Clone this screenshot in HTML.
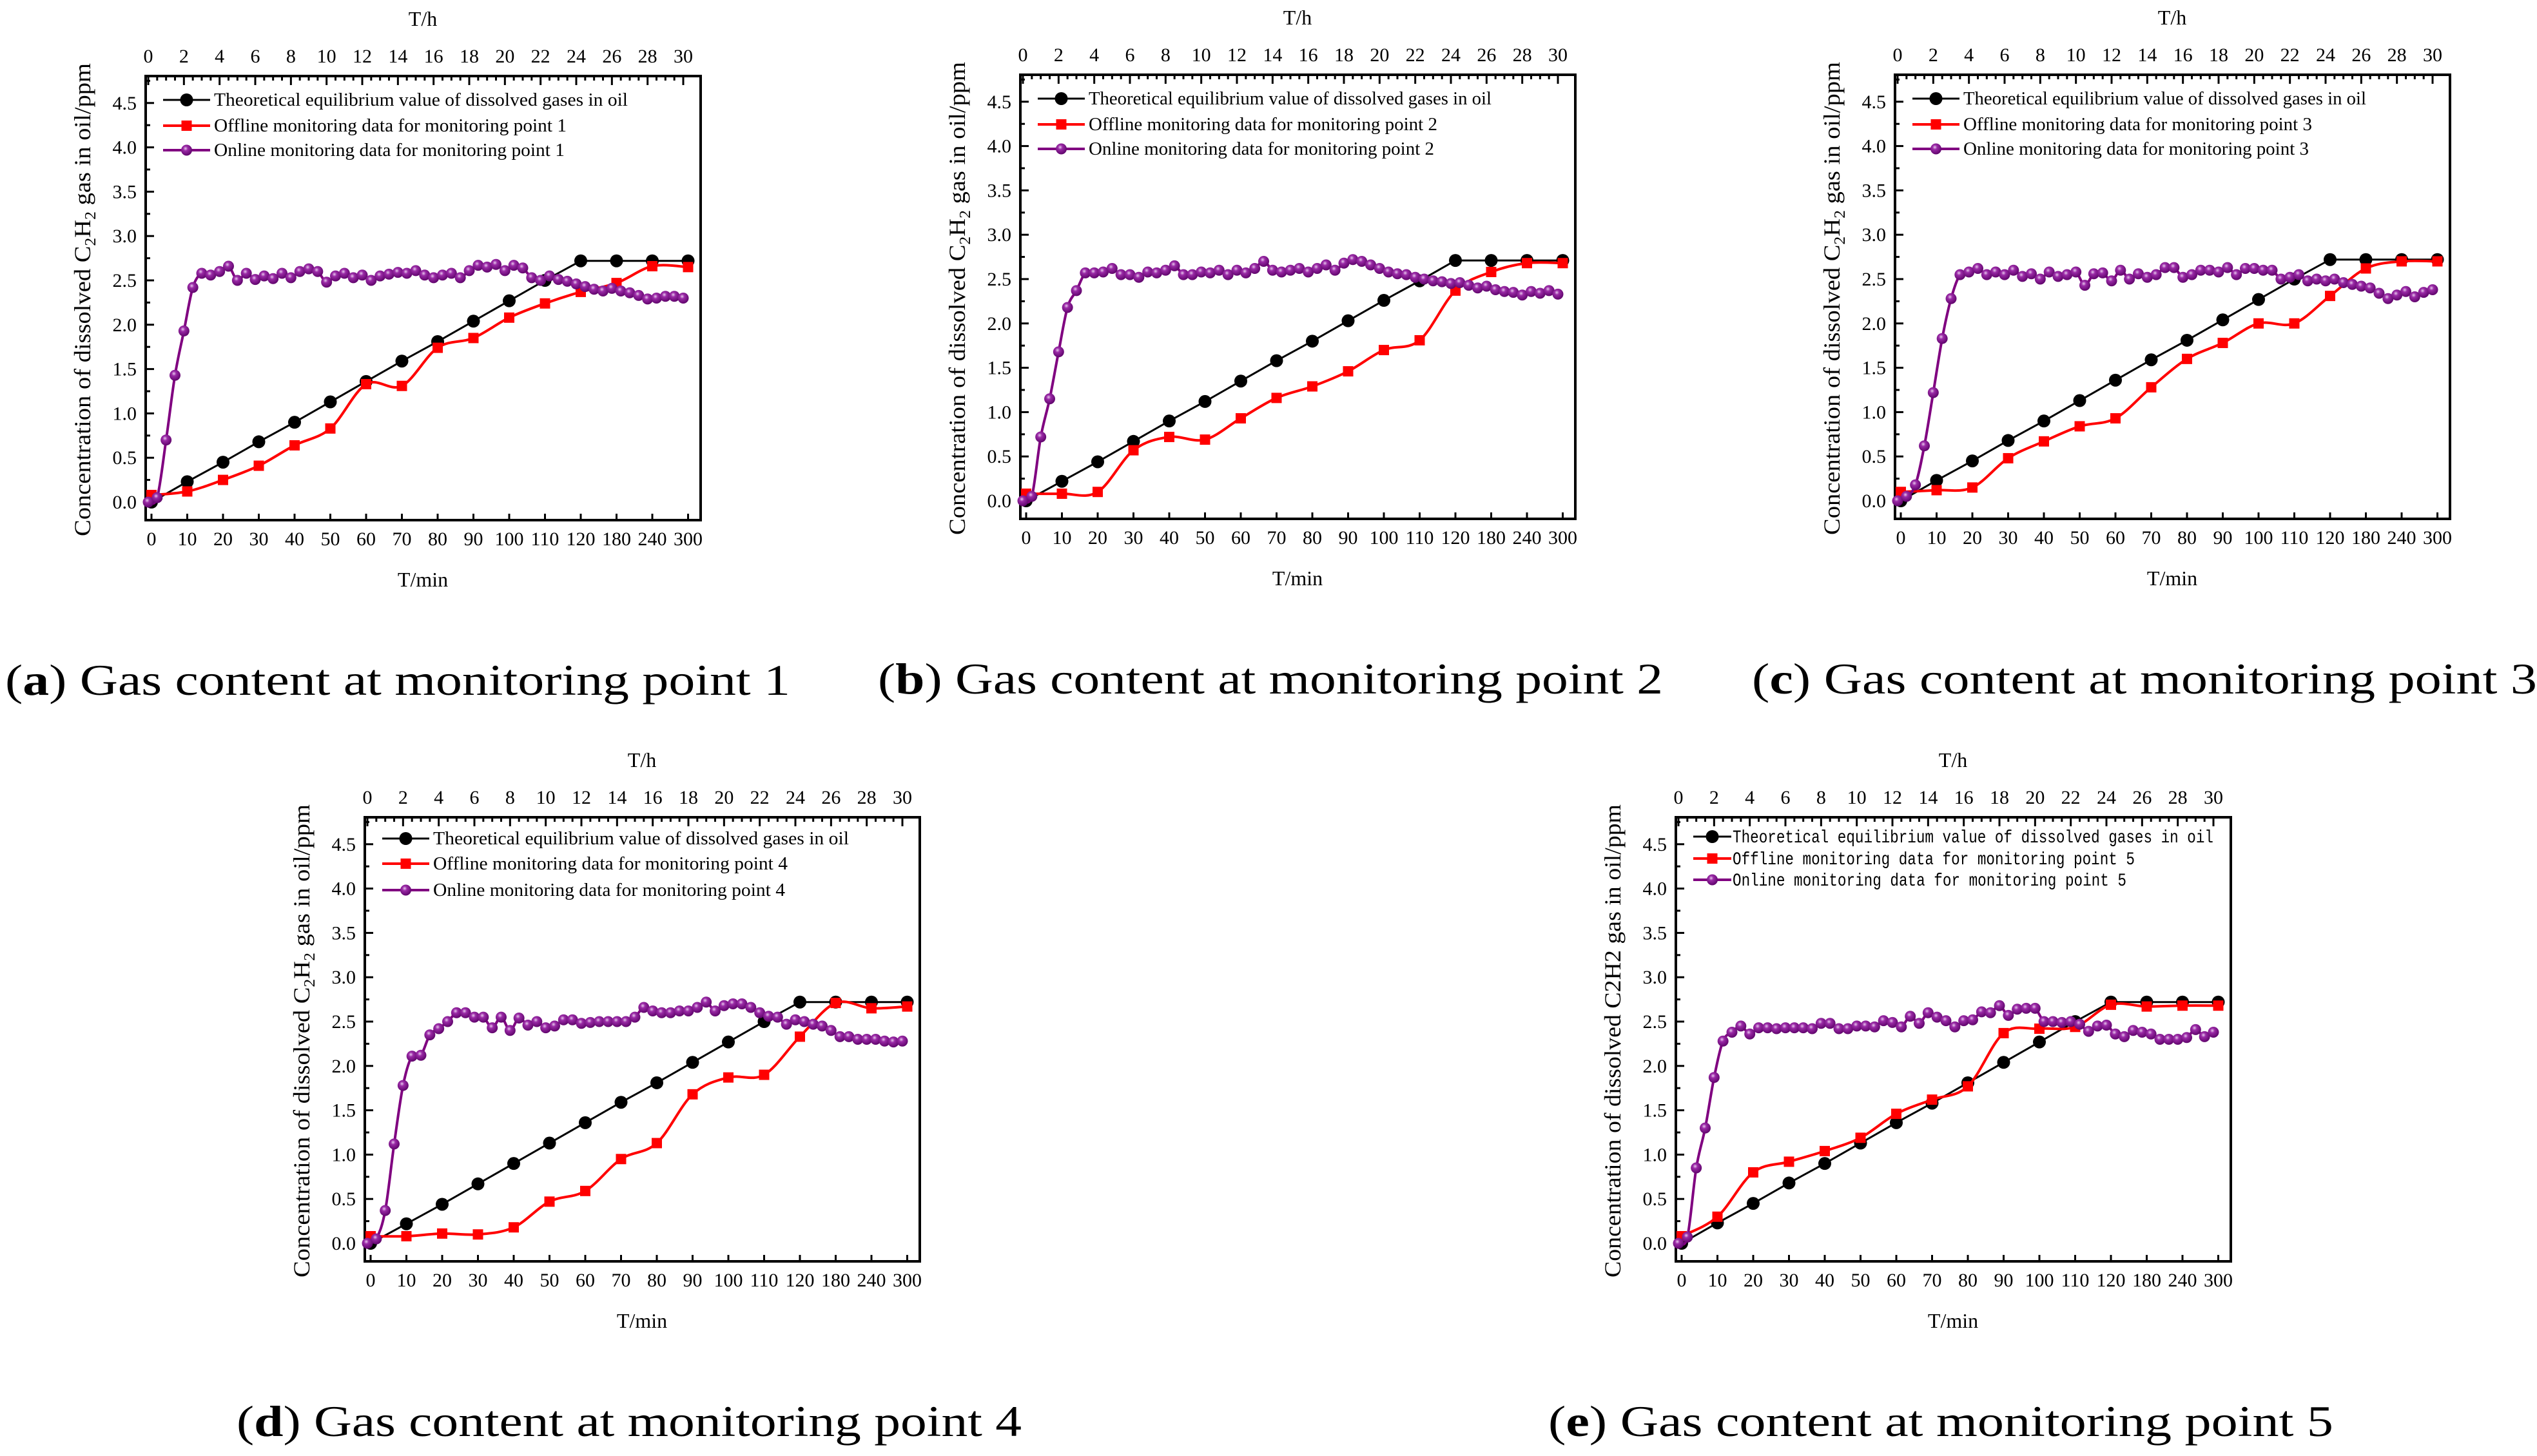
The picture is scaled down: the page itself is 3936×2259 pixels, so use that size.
<!DOCTYPE html>
<html><head><meta charset="utf-8">
<style>
html,body{margin:0;padding:0;background:#fff;}
svg{display:block;}
text{font-family:"Liberation Serif",serif;fill:#000;}
</style></head>
<body>
<svg id="fig" width="3936" height="2259" viewBox="0 0 3936 2259" xmlns="http://www.w3.org/2000/svg">
<defs>
<radialGradient id="sph" cx="0.4" cy="0.35" r="0.7">
<stop offset="0" stop-color="#e8c8ee"/><stop offset="0.3" stop-color="#9a2aa6"/><stop offset="1" stop-color="#5a0066"/>
</radialGradient>
</defs>
</svg>
<script>
const categories = ["0","10","20","30","40","50","60","70","80","90","100","110","120","180","240","300"];
const hourTicks = [0,2,4,6,8,10,12,14,16,18,20,22,24,26,28,30];
const yTicks = [0,0.5,1,1.5,2,2.5,3,3.5,4,4.5];
const onlineHourStep = 0.5;

const theoryA = [0,0.23,0.45,0.68,0.9,1.13,1.36,1.59,1.81,2.04,2.27,2.5,2.72,2.72,2.72,2.72];
const theoryB = [0,0.22,0.44,0.67,0.9,1.12,1.35,1.58,1.8,2.03,2.26,2.48,2.71,2.71,2.71,2.71];
const theoryC = [0,0.23,0.45,0.68,0.9,1.13,1.36,1.59,1.81,2.04,2.27,2.5,2.72,2.72,2.72,2.72];
const theoryD = [0,0.22,0.44,0.67,0.9,1.13,1.36,1.59,1.81,2.04,2.27,2.5,2.72,2.72,2.72,2.72];
const theoryE = [0,0.23,0.45,0.68,0.9,1.13,1.36,1.58,1.81,2.04,2.27,2.5,2.72,2.72,2.72,2.72];

const offlineA = [0.08,0.12,0.25,0.41,0.64,0.83,1.33,1.31,1.74,1.85,2.08,2.24,2.37,2.47,2.66,2.65];
const offlineB = [0.08,0.08,0.1,0.57,0.72,0.69,0.93,1.16,1.29,1.46,1.7,1.81,2.37,2.58,2.68,2.68];
const offlineC = [0.1,0.12,0.15,0.48,0.67,0.84,0.93,1.28,1.6,1.78,2.0,2.0,2.31,2.62,2.7,2.7];
const offlineD = [0.08,0.08,0.11,0.1,0.18,0.47,0.59,0.95,1.13,1.68,1.87,1.9,2.33,2.71,2.65,2.67];
const offlineE = [0.08,0.3,0.8,0.92,1.04,1.19,1.46,1.62,1.77,2.37,2.42,2.44,2.69,2.67,2.68,2.68];

const onlineA = [0,0.05,0.7,1.43,1.93,2.42,2.58,2.56,2.6,2.66,2.5,2.58,2.51,2.55,2.52,2.58,2.53,2.6,2.63,2.6,2.48,2.55,2.58,2.53,2.56,2.5,2.55,2.57,2.59,2.58,2.61,2.56,2.53,2.56,2.58,2.53,2.61,2.67,2.65,2.68,2.61,2.67,2.64,2.53,2.5,2.55,2.51,2.49,2.46,2.43,2.4,2.38,2.41,2.38,2.36,2.33,2.29,2.3,2.32,2.32,2.3];
const onlineB = [0,0.05,0.72,1.15,1.68,2.18,2.37,2.57,2.57,2.58,2.62,2.55,2.55,2.52,2.58,2.57,2.6,2.65,2.55,2.55,2.58,2.57,2.6,2.55,2.6,2.57,2.62,2.7,2.6,2.58,2.6,2.62,2.58,2.62,2.66,2.6,2.68,2.72,2.7,2.66,2.62,2.58,2.56,2.55,2.52,2.5,2.48,2.47,2.45,2.46,2.43,2.4,2.42,2.38,2.36,2.35,2.32,2.36,2.34,2.37,2.33];
const onlineC = [0,0.05,0.18,0.62,1.22,1.83,2.28,2.55,2.58,2.62,2.55,2.58,2.55,2.6,2.53,2.56,2.5,2.58,2.53,2.55,2.58,2.43,2.56,2.57,2.48,2.6,2.5,2.56,2.52,2.55,2.63,2.63,2.52,2.55,2.6,2.6,2.58,2.63,2.55,2.62,2.62,2.6,2.6,2.5,2.52,2.55,2.48,2.5,2.48,2.5,2.46,2.44,2.42,2.4,2.34,2.28,2.32,2.36,2.3,2.35,2.38];
const onlineD = [0,0.05,0.37,1.12,1.78,2.11,2.12,2.35,2.42,2.5,2.6,2.6,2.55,2.55,2.43,2.55,2.4,2.54,2.46,2.5,2.43,2.45,2.52,2.52,2.48,2.49,2.5,2.5,2.5,2.5,2.55,2.66,2.62,2.6,2.6,2.62,2.62,2.66,2.72,2.62,2.68,2.7,2.7,2.66,2.6,2.56,2.55,2.47,2.52,2.5,2.47,2.45,2.4,2.33,2.33,2.3,2.3,2.3,2.28,2.27,2.28];
const onlineE = [0,0.07,0.85,1.3,1.87,2.28,2.38,2.45,2.36,2.43,2.43,2.42,2.43,2.43,2.43,2.42,2.48,2.48,2.42,2.42,2.45,2.45,2.44,2.51,2.49,2.44,2.56,2.48,2.6,2.55,2.51,2.44,2.51,2.52,2.61,2.6,2.68,2.57,2.64,2.65,2.65,2.5,2.5,2.49,2.5,2.47,2.39,2.45,2.46,2.36,2.33,2.4,2.38,2.36,2.3,2.3,2.3,2.32,2.41,2.33,2.38];

const NS = "http://www.w3.org/2000/svg";
const svg = document.getElementById('fig');
function mk(tag, attrs, parent){
  const e = document.createElementNS(NS, tag);
  for (const k in attrs) e.setAttribute(k, attrs[k]);
  (parent||svg).appendChild(e);
  return e;
}

const BW = 861, BH = 689;
function panel(p){
  const L = p.L, T = p.T;
  const g = mk('g', {});
  
  
  const yScale = v => T + 661 - v * 137.6;
  const xCat = i => L + 9 + i * 55.5;
  const xHour = h => L + 4 + h * (830 / 30);
  const mono = p.mono;

  const box = mk('rect', {x:L, y:T, width:BW, height:BH, fill:'none', stroke:'#000', 'stroke-width':4}, g);
  
  

  const yAx = mk('g', {}, g);
  
  
  for (let i = 0; i < yTicks.length; i++){
    const y = yScale(yTicks[i]);
    mk('line', {x1:L, x2:L+13, y1:y, y2:y, stroke:'#000', 'stroke-width':3}, yAx);
    const ym = yScale(yTicks[i] + 0.25);
    mk('line', {x1:L, x2:L+7, y1:ym, y2:ym, stroke:'#000', 'stroke-width':3}, yAx);
    const t = mk('text', {x:L-14, y:y+10, 'font-size':30, 'text-anchor':'end'}, yAx);
    t.textContent = yTicks[i].toFixed(1);
    
    
  }
  const tAx = mk('g', {}, g);
  
  
  for (let i = 0; i < hourTicks.length; i++){
    const x = xHour(hourTicks[i]);
    mk('line', {x1:x, x2:x, y1:T, y2:T+14, stroke:'#000', 'stroke-width':3}, tAx);
    const t = mk('text', {x:x, y:T-21, 'font-size':30, 'text-anchor':'middle'}, tAx);
    t.textContent = hourTicks[i];
    
    
  }
  for (let h = 0.5; h < 30.4; h += 0.5){
    if (h % 2 === 0) continue;
    const x = xHour(h);
    mk('line', {x1:x, x2:x, y1:T, y2:T+7, stroke:'#000', 'stroke-width':3}, tAx);
  }
  const th = mk('text', {x:L+430, y:T-78, 'font-size':32, 'text-anchor':'middle'}, g);
  th.textContent = 'T/h';
  
  

  const bAx = mk('g', {}, g);
  
  
  for (let i = 0; i < categories.length; i++){
    const x = xCat(i);
    mk('line', {x1:x, x2:x, y1:T+BH, y2:T+BH-10, stroke:'#000', 'stroke-width':3}, bAx);
    const t = mk('text', {x:x, y:T+728, 'font-size':30, 'text-anchor':'middle'}, bAx);
    t.textContent = categories[i];
    
    
  }
  const tm = mk('text', {x:L+430, y:T+792, 'font-size':32, 'text-anchor':'middle'}, g);
  tm.textContent = 'T/min';
  
  

  const yt = mk('text', {x:0, y:0, 'font-size':36, 'text-anchor':'middle', textLength:734, lengthAdjust:'spacingAndGlyphs', transform:'translate('+(L-86)+','+(T+347)+') rotate(-90)'}, g);
  
  
  if (p.plainLabel){
    yt.textContent = 'Concentration of dissolved C2H2 gas in oil/ppm';
  } else {
    yt.appendChild(document.createTextNode('Concentration of dissolved C'));
    const s1 = mk('tspan', {'font-size':24, dy:8}, yt); s1.textContent = '2';
    const s2 = mk('tspan', {dy:-8}, yt); s2.textContent = 'H';
    const s3 = mk('tspan', {'font-size':24, dy:8}, yt); s3.textContent = '2';
    const s4 = mk('tspan', {dy:-8}, yt); s4.textContent = ' gas in oil/ppm';
  }

  function pathOf(pts, smooth){
    let d = 'M' + pts[0][0] + ',' + pts[0][1];
    for (let i = 1; i < pts.length; i++){
      if (!smooth){ d += ' L' + pts[i][0] + ',' + pts[i][1]; continue; }
      const p0 = pts[Math.max(0,i-2)], p1 = pts[i-1], p2 = pts[i], p3 = pts[Math.min(pts.length-1,i+1)];
      const c1x = p1[0] + (p2[0]-p0[0])/6, c1y = p1[1] + (p2[1]-p0[1])/6;
      const c2x = p2[0] - (p3[0]-p1[0])/6, c2y = p2[1] - (p3[1]-p1[1])/6;
      d += ' C' + c1x + ',' + c1y + ' ' + c2x + ',' + c2y + ' ' + p2[0] + ',' + p2[1];
    }
    return d;
  }
  const thPts = p.theory.map((v,i) => [xCat(i), yScale(v)]);
  const ofPts = p.offline.map((v,i) => [xCat(i), yScale(v)]);
  const onPts = p.online.map((v,i) => [xHour(i*onlineHourStep), yScale(v)]);

  const sTh = mk('g', {}, g);
  
  
  const sOf = mk('g', {}, g);
  
  
  const sOn = mk('g', {}, g);
  
  

  mk('path', {d:pathOf(thPts,false), fill:'none', stroke:'#000', 'stroke-width':3}, sTh);
  thPts.forEach(q => {
    const c = mk('circle', {cx:q[0], cy:q[1], r:10, fill:'#000'}, sTh);
    
    
  });
  mk('path', {d:pathOf(ofPts,true), fill:'none', stroke:'#ff0000', 'stroke-width':4}, sOf);
  ofPts.forEach(q => {
    const r = mk('rect', {x:q[0]-8, y:q[1]-8, width:16, height:16, fill:'#ff0000'}, sOf);
    
    
  });
  mk('path', {d:pathOf(onPts,true), fill:'none', stroke:'#800080', 'stroke-width':4}, sOn);
  onPts.forEach(q => {
    const c = mk('circle', {cx:q[0], cy:q[1], r:8.5, fill:'url(#sph)'}, sOn);
    
    
  });

  const lg = mk('g', {}, g);
  
  
  const rows = p.legendRows;
  const lx1 = L + 27, lx2 = L + (mono ? 86 : 100), mx = (lx1+lx2)/2, tx = L + (mono ? 88 : 106);
  const labels = ['Theoretical equilibrium value of dissolved gases in oil',
                  'Offline monitoring data for monitoring point ' + p.id,
                  'Online monitoring data for monitoring point ' + p.id];
  const colors = ['#000','#ff0000','#800080'];
  for (let k = 0; k < 3; k++){
    const y = T + rows[k];
    const e = mk('g', {}, lg);
    
    
    mk('line', {x1:lx1, x2:lx2, y1:y, y2:y, stroke:colors[k], 'stroke-width':k===0?3:4}, e);
    if (k===0) mk('circle', {cx:mx, cy:y, r:10, fill:'#000'}, e);
    if (k===1) mk('rect', {x:mx-8, y:y-8, width:16, height:16, fill:'#ff0000'}, e);
    if (k===2) mk('circle', {cx:mx, cy:y, r:8.5, fill:'url(#sph)'}, e);
    const t = mk('text', {x:tx, y:y+9, 'font-size':28, textLength:p.legendLen[k], lengthAdjust:'spacingAndGlyphs'}, e);
    if (mono) t.setAttribute('style', 'font-family:"Liberation Mono",monospace');
    t.textContent = labels[k];
  }

  const cap = mk('text', {x:p.capX, y:T+960, 'font-size':68, textLength:1218, lengthAdjust:'spacingAndGlyphs'}, svg);
  
  
  cap.appendChild(document.createTextNode('('));
  const b = mk('tspan', {'font-weight':'bold'}, cap); b.textContent = p.letter;
  cap.appendChild(document.createTextNode(') Gas content at monitoring point ' + p.id));
}

panel({id:1, letter:'a', L:226, T:118, theory:theoryA, offline:offlineA, online:onlineA, legendRows:[37,77,115], legendLen:[642,547,544], capX:8});
panel({id:2, letter:'b', L:1583, T:116, theory:theoryB, offline:offlineB, online:onlineB, legendRows:[37,77,115], legendLen:[625,541,536], capX:1362});
panel({id:3, letter:'c', L:2940, T:116, theory:theoryC, offline:offlineC, online:onlineC, legendRows:[37,77,115], legendLen:[625,541,536], capX:2718});
panel({id:4, letter:'d', L:566, T:1268, theory:theoryD, offline:offlineD, online:onlineD, legendRows:[33,72,113], legendLen:[645,550,546], capX:367});
panel({id:5, letter:'e', L:2600, T:1268, theory:theoryE, offline:offlineE, online:onlineE, legendRows:[30,64,97], legendLen:[746,624,611], capX:2402, mono:true, plainLabel:true});
</script>
</body></html>
